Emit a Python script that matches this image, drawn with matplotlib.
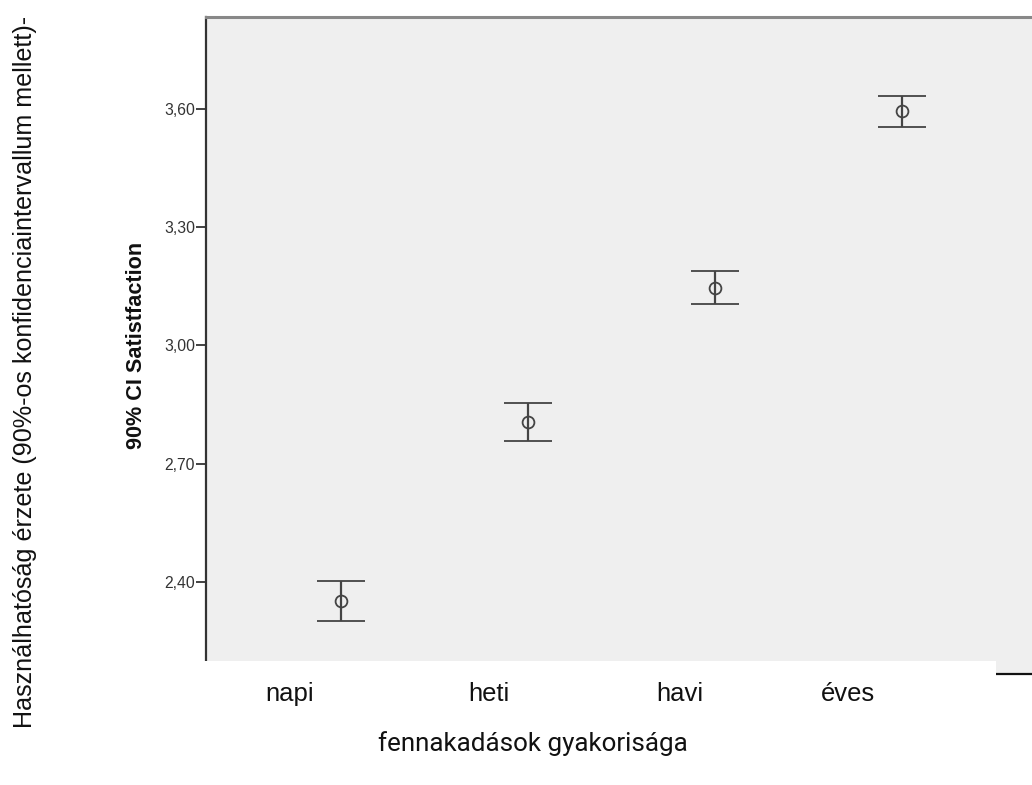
import os
import matplotlib
matplotlib.use("Agg")
import matplotlib.pyplot as plt
import matplotlib.font_manager as fm
from matplotlib.patches import Rectangle

categories = ["napi", "heti", "havi", "éves"]
means = [2.352, 2.806, 3.147, 3.595]
ci_lower = [2.301, 2.759, 3.106, 3.554]
ci_upper = [2.403, 2.854, 3.190, 3.633]
yticks = [2.40, 2.70, 3.00, 3.30, 3.60]
ytick_labels = ["2,40", "2,70", "3,00", "3,30", "3,60"]

_files = {os.path.basename(f): f for f in fm.findSystemFonts()}


def font(fname, size, fallback_family="Liberation Sans", **kw):
    if fname in _files:
        return fm.FontProperties(fname=_files[fname], size=size)
    return fm.FontProperties(family=fallback_family, size=size, **kw)


narrow = lambda s: font("LiberationSansNarrow-Regular.ttf", s)
arial = lambda s: font("LiberationSans-Regular.ttf", s)
arial_bold = lambda s: font("LiberationSans-Bold.ttf", s, weight="bold")
has_narrow = "LiberationSansNarrow-Regular.ttf" in _files
nscale = 1.0 if has_narrow else 0.88

W, H = 1032, 785
fig = plt.figure(figsize=(W / 100, H / 100), dpi=100)
fig.patch.set_facecolor("white")

ax = fig.add_axes([206 / W, 1 - 674 / H, (1045 - 206) / W, (674 - 17) / H])
ax.set_facecolor("#efefef")

xs = list(range(1, len(categories) + 1))
yerr = [[m - lo for m, lo in zip(means, ci_lower)],
        [hi - m for m, hi in zip(means, ci_upper)]]
ax.errorbar(xs, means, yerr=yerr, fmt="o", mfc="none", mec="#444444",
            ms=8.5, mew=1.3, ecolor="#444444", elinewidth=1.6,
            capsize=17, capthick=1.6, zorder=3)

ax.set_xlim(1 - 135 / 187, 4 + 143 / 187)
ax.set_ylim(2.1667, 3.8333)
ax.set_yticks(yticks)
ax.set_yticklabels(ytick_labels, color="#333333")
for t in ax.get_yticklabels():
    t.set_fontproperties(arial(11.3))
ax.set_xticks([])
ax.tick_params(axis="y", length=7, width=1.3, color="#333333", pad=1)

ax.spines["right"].set_visible(False)
ax.spines["top"].set_color("#888888")
ax.spines["top"].set_linewidth(2.2)
ax.spines["left"].set_color("#333333")
ax.spines["left"].set_linewidth(1.6)
ax.spines["bottom"].set_color("#111111")
ax.spines["bottom"].set_linewidth(1.6)

fig.text(137 / W, 1 - 345 / H, "90% CI Satistfaction", rotation=90,
         ha="center", va="center", fontproperties=arial_bold(15.6),
         color="#111111")

# white pasted box over the bottom of the chart
fig.patches.append(Rectangle((0, 0), 996 / W, (H - 661) / H,
                             transform=fig.transFigure, facecolor="white",
                             edgecolor="none", zorder=10))

label_x = [290, 489, 680, 848]
for lx, cat in zip(label_x, categories):
    fig.text(lx / W, 1 - 694 / H, cat, ha="center", va="center",
             fontproperties=narrow(21 * nscale), color="#111111", zorder=11)

fig.text(533 / W, 1 - 744 / H, "fennakadások gyakorisága", ha="center",
         va="center", fontproperties=font("Roboto-Regular.ttf", 18.7,
                                          fallback_family="Roboto"),
         color="#111111", zorder=11)

fig.text(25 / W, 1 - 372 / H,
         "Használhatóság érzete (90%-os konfidenciaintervallum mellett)-",
         rotation=90, ha="center", va="center",
         fontproperties=narrow(20.6 * nscale), color="#111111", zorder=11)

fig.savefig("out.png", dpi=100)
